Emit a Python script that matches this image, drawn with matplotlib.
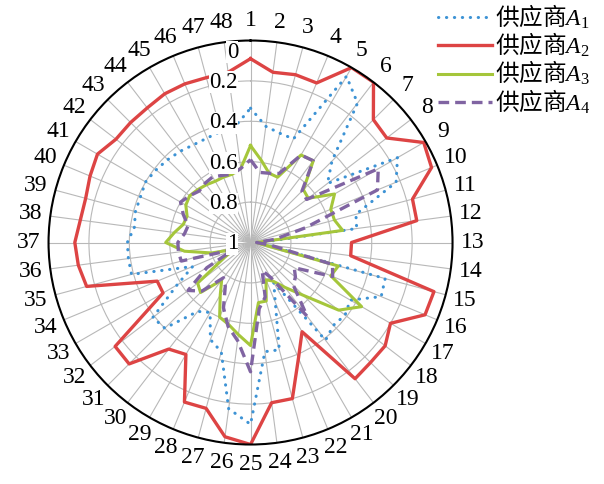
import numpy as np
import matplotlib
matplotlib.use('Agg')
import matplotlib.pyplot as plt
from matplotlib.transforms import offset_copy
from matplotlib.font_manager import FontProperties

plt.rcParams['font.family'] = ['Liberation Serif', 'Noto Sans CJK SC']
plt.rcParams['mathtext.fontset'] = 'custom'
plt.rcParams['mathtext.rm'] = 'Liberation Serif'
plt.rcParams['mathtext.it'] = 'Liberation Serif:italic'

# spoke labels and radial ticks
spokes = [str(i) for i in range(1, 49)]
r_ticks = [0, 0.2, 0.4, 0.6, 0.8, 1]
r_tick_labels = ['0', '0.2', '0.4', '0.6', '0.8', '1']
names = ['供应商$A_1$', '供应商$A_2$', '供应商$A_3$', '供应商$A_4$']

# values, spokes 1..48
a1 = [0.335, 0.42, 0.44, 0.445, 0.05, 0.13, 0.43, 0.52, 0.16, 0.22, 0.46, 0.47,
      0.95, 0.93, 0.31, 0.30, 0.43, 0.41, 0.42, 0.39, 0.77, 0.68, 0.45, 0.455,
      0.10, 0.17, 0.44, 0.48, 0.60, 0.57, 0.40, 0.39, 0.58, 0.69, 0.39, 0.39,
      0.39, 0.42, 0.41, 0.41, 0.40, 0.41, 0.42, 0.43, 0.44, 0.44, 0.43, 0.42]
a2 = [0.09, 0.15, 0.14, 0.145, 0.0, 0.0, 0.14, 0.15, 0.01, 0.03, 0.17, 0.17,
      0.50, 0.50, 0.06, 0.065, 0.20, 0.16, 0.16, 0.15, 0.49, 0.38, 0.20, 0.20,
      0.0, 0.03, 0.15, 0.145, 0.36, 0.335, 0.15, 0.155, 0.50, 0.50, 0.16, 0.14,
      0.13, 0.15, 0.155, 0.14, 0.125, 0.16, 0.16, 0.16, 0.15, 0.15, 0.155, 0.15]
a3 = [0.52, 0.59, 0.645, 0.65, 0.50, 0.49, 0.63, 0.64, 0.52, 0.57, 0.57, 0.54,
      0.97, 0.95, 0.55, 0.57, 0.365, 0.45, 0.63, 0.72, 0.78, 0.80, 0.70, 0.70,
      0.49, 0.54, 0.58, 0.60, 0.70, 0.765, 0.65, 0.67, 0.85, 0.91, 0.80, 0.67,
      0.58, 0.62, 0.655, 0.66, 0.63, 0.62, 0.63, 0.64, 0.65, 0.65, 0.65, 0.63]
a4 = [0.59, 0.65, 0.645, 0.63, 0.50, 0.49, 0.64, 0.65, 0.27, 0.32, 0.72, 0.88,
      0.97, 0.90, 0.58, 0.56, 0.75, 0.72, 0.70, 0.54, 0.80, 0.85, 0.72, 0.67,
      0.36, 0.51, 0.57, 0.65, 0.75, 0.78, 0.66, 0.61, 0.75, 0.91, 0.645, 0.64,
      0.64, 0.67, 0.68, 0.64, 0.60, 0.62, 0.64, 0.63, 0.625, 0.64, 0.65, 0.63]

theta = np.deg2rad(np.arange(len(spokes)) * 360 / len(spokes))
theta_c = np.append(theta, theta[0])

def closed(v):
    return np.append(v, v[0])

fig = plt.figure(figsize=(6.04, 4.84), dpi=100)
ax = fig.add_axes([0.0803, 0.0816, 0.669, 0.8347], projection='polar')
ax.set_theta_zero_location('N')
ax.set_theta_direction(-1)

ax.plot(theta_c, closed(a1), color='#3d93d5', lw=2.2, linestyle=(0, (0.1, 2.5)),
        dash_capstyle='round', label=names[0])
ax.plot(theta_c, closed(a2), color='#dd4444', lw=2.4, label=names[1])
ax.plot(theta_c, closed(a3), color='#a5c63b', lw=2.2, label=names[2])
ax.plot(theta_c, closed(a4), color='#8064a2', lw=2.4, linestyle=(0, (3.2, 1.8)), label=names[3])

ax.set_ylim(1, 0)
ax.set_yticks(r_ticks[1:-1])
ax.set_yticklabels([])
ax.set_xticks(theta)
ax.set_xticklabels(spokes, fontsize=17)
ax.tick_params(axis='x', pad=4)
ax.grid(color='#b8b8b8', lw=0.8)
ax.spines['polar'].set_color('black')
ax.spines['polar'].set_linewidth(1.5)

trans = offset_copy(ax.transData, fig=fig, x=-9, y=-1, units='points')
for v, lab in zip(r_ticks, r_tick_labels):
    ax.text(0, v, lab, transform=trans, ha='right', va='top' if v == 0 else 'center',
            fontsize=16.5, zorder=5, bbox=dict(fc='white', ec='none', pad=0.3))

fig.legend(loc='upper left', bbox_to_anchor=(0.725, 0.995), frameon=False,
           prop=FontProperties(family='Noto Sans CJK SC', size=17),
           handlelength=2.3, handletextpad=0.1, labelspacing=0.0, borderaxespad=0, borderpad=0)

fig.savefig('out.png', dpi=100)
